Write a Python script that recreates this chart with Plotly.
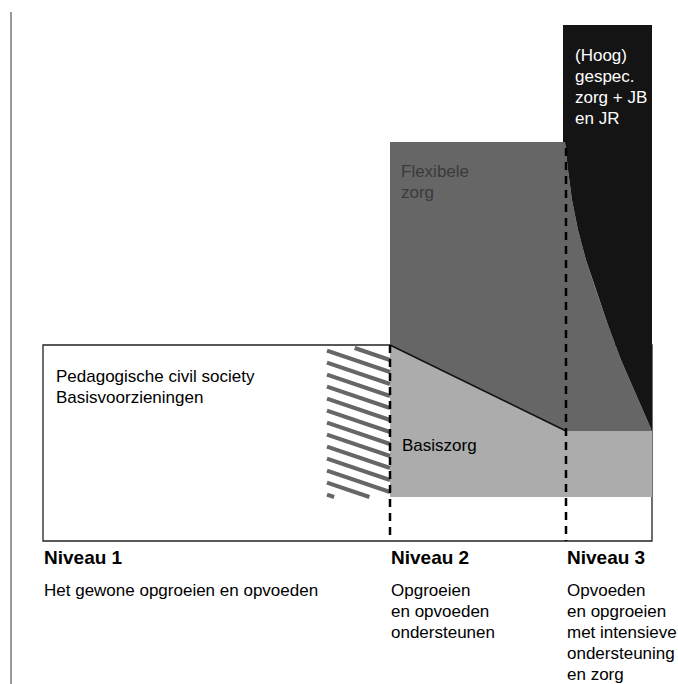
import plotly.graph_objects as go

# ---- diagram geometry (pixel space of the 678x684 canvas) ----
frame_x = [43, 652]          # white base box (Niveau 1 area)
frame_y = [345, 541]
level_x = [43, 390, 566]     # start of Niveau 1, 2, 3
level_names = ["Niveau 1", "Niveau 2", "Niveau 3"]
level_texts = [
    ["Het gewone opgroeien en opvoeden"],
    ["Opgroeien", "en opvoeden", "ondersteunen"],
    ["Opvoeden", "en opgroeien", "met intensieve", "ondersteuning", "en zorg"],
]
spec_lines = ["(Hoog)", "gespec.", "zorg + JB", "en JR"]
flex_lines = ["Flexibele", "zorg"]
base_lines = ["Pedagogische civil society", "Basisvoorzieningen"]

flex_top = 142               # Flexibele zorg block top
spec_top = 25                # (Hoog) gespec. zorg block top
spec_left = 563
right_edge = 652
basis_top_right = 431        # Basiszorg top on the right
basis_bottom = 497
hatch_x = [327, 390]

# boundary between Flexibele zorg and specialised care
curve_x = [565, 568, 572, 578, 586, 596, 608, 621, 636, 652]
curve_y = [142, 170, 200, 230, 260, 290, 325, 360, 395, 431]

FONT = "Liberation Sans, Arial, Helvetica, sans-serif"
C_FLEX = "#666666"
C_SPEC = "#141414"
C_BASIS = "#acacac"
C_HATCH = "#666666"

fig = go.Figure()

# white frame (below everything)
fig.add_shape(type="rect", x0=frame_x[0], x1=frame_x[1], y0=frame_y[0], y1=frame_y[1],
              line=dict(color="#222", width=1.3), fillcolor="white", layer="below")
# left margin rule
fig.add_shape(type="line", x0=11, x1=11, y0=12, y1=684, line=dict(color="#777", width=1.5),
              layer="below")

# Flexibele zorg block
fx = [level_x[1], curve_x[0]] + curve_x + [level_x[2], level_x[1]]
fy = [flex_top, flex_top] + curve_y + [basis_top_right, frame_y[0]]
fig.add_trace(go.Scatter(x=fx, y=fy, fill="toself", fillcolor=C_FLEX, mode="lines",
                         line=dict(width=0), hoverinfo="skip", showlegend=False))

# specialised care block
sx = [spec_left, right_edge, right_edge] + curve_x[::-1] + [spec_left]
sy = [spec_top, spec_top, basis_top_right] + curve_y[::-1] + [flex_top]
fig.add_trace(go.Scatter(x=sx, y=sy, fill="toself", fillcolor=C_SPEC, mode="lines",
                         line=dict(width=0), hoverinfo="skip", showlegend=False))

# Basiszorg block
bx = [level_x[1], level_x[2], right_edge, right_edge, level_x[1]]
by = [frame_y[0], basis_top_right, basis_top_right, basis_bottom, basis_bottom]
fig.add_trace(go.Scatter(x=bx, y=by, fill="toself", fillcolor=C_BASIS, mode="lines",
                         line=dict(width=0), hoverinfo="skip", showlegend=False))
# diagonal edge
fig.add_trace(go.Scatter(x=[level_x[1], level_x[2]], y=[frame_y[0], basis_top_right],
                         mode="lines", line=dict(color="#111", width=1.5),
                         hoverinfo="skip", showlegend=False))

# hatched transition zone
slope = 0.34
step = 12
hx, hy = [], []
x0, x1 = hatch_x
top, bot = frame_y[0] + 3, basis_bottom
y_start = top - slope * (x1 - x0)
k = 0
while True:
    yl = y_start + k * step
    yr = yl + slope * (x1 - x0)
    if yl > bot:
        break
    xa, ya, xb, yb = x0, yl, x1, yr
    if ya < top:
        xa = x0 + (top - yl) / slope
        ya = top
    if yb > bot:
        xb = x0 + (bot - yl) / slope
        yb = bot
    if xa < xb:
        hx += [xa, xb, None]
        hy += [ya, yb, None]
    k += 1
fig.add_trace(go.Scatter(x=hx, y=hy, mode="lines", line=dict(color=C_HATCH, width=4),
                         hoverinfo="skip", showlegend=False))

# dashed level boundaries
fig.add_trace(go.Scatter(x=[level_x[1], level_x[1]], y=[frame_y[0], frame_y[1]], mode="lines",
                         line=dict(color="black", width=2.5, dash="8px,6px"),
                         hoverinfo="skip", showlegend=False))
fig.add_trace(go.Scatter(x=[level_x[2], level_x[2]], y=[flex_top + 6, frame_y[1]], mode="lines",
                         line=dict(color="black", width=2.5, dash="8px,6px"),
                         hoverinfo="skip", showlegend=False))


def label(x, yc, lines, color="black", size=17, bold=False, spacing=21):
    for i, t in enumerate(lines):
        if bold:
            t = "<b>" + t + "</b>"
        fig.add_annotation(x=x, y=yc + i * spacing, text=t, showarrow=False,
                           xanchor="left", yanchor="middle", align="left",
                           font=dict(family=FONT, size=size, color=color), borderpad=0)


label(574, 55, spec_lines, color="white", spacing=21)
label(400, 171, flex_lines, color="#3a3a3a")
label(55, 376, base_lines)
label(401, 445, ["Basiszorg"])
for lx, nm, tx in zip(level_x, level_names, level_texts):
    label(lx, 557, [nm], bold=True, size=19)
    label(lx, 590, tx)

fig.update_layout(
    width=678, height=684,
    margin=dict(l=0, r=0, t=0, b=0),
    paper_bgcolor="white", plot_bgcolor="white",
    xaxis=dict(range=[0, 678], visible=False, fixedrange=True),
    yaxis=dict(range=[684, 0], visible=False, fixedrange=True),
    showlegend=False,
)
fig.write_html(
    "out.html",
    config={"displayModeBar": False},
    post_script="document.body.style.margin='0';document.body.style.overflow='hidden';",
)
